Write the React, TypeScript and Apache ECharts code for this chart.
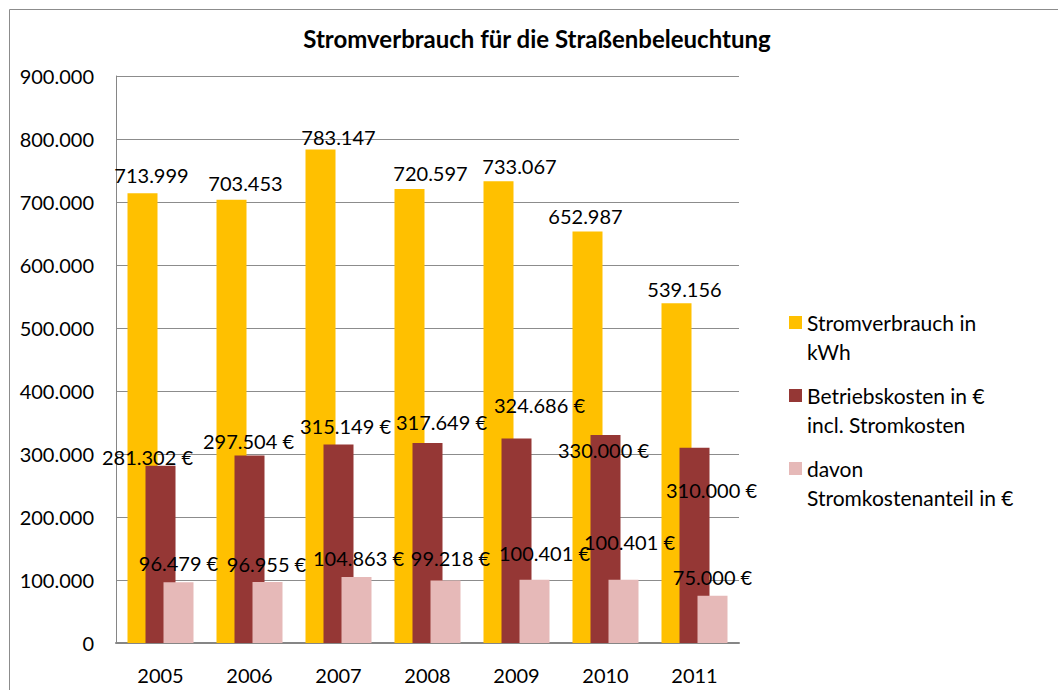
import React, { useEffect, useRef } from "react";
import * as echarts from "echarts";

const titleText = "Stromverbrauch für die Straßenbeleuchtung";
const years = ["2005", "2006", "2007", "2008", "2009", "2010", "2011"];
const seriesNames = [
  "Stromverbrauch in kWh",
  "Betriebskosten in € incl. Stromkosten",
  "davon Stromkostenanteil in €",
];
const legendLines = [
  "Stromverbrauch in\nkWh",
  "Betriebskosten in €\nincl. Stromkosten",
  "davon\nStromkostenanteil in €",
];
const consumptionKWh = [713999, 703453, 783147, 720597, 733067, 652987, 539156];
const operatingCostsEUR = [281302, 297504, 315149, 317649, 324686, 330000, 310000];
const electricityCostsEUR = [96479, 96955, 104863, 99218, 100401, 100401, 75000];
const yMin = 0;
const yMax = 900000;
const yStep = 100000;

// label placement tweaks (style only)
const consumptionLabelOffsets = [[9, -3], [14, -2], [18, 2], [21, -1], [21, 0], [-2, -1], [8, 1]];
const operatingLabelOffsets = [[-13, 6], [-1, 0], [7, -3], [14, -6], [23, -18], [-2, 30], [17, 57]];
const electricityLabelOffsets = [[0, -4], [-1, -3], [2, -4], [5, -7], [10, -12], [6, -23], [0, -4]];

const colors = ["#FFC000", "#953735", "#E6B9B8"];
const FONT = "Lato";

function fmt(v: number): string {
  return String(Math.round(v)).replace(/\B(?=(\d{3})+(?!\d))/g, ".");
}

export default function App() {
  const ref = useRef<HTMLDivElement>(null);
  useEffect(() => {
    document.body.style.margin = "0";
    if (!ref.current) return;
    const chart = echarts.init(ref.current, null, { renderer: "svg" });
    const labelBase = {
      show: true,
      position: "top" as const,
      distance: 5,
      fontSize: 20,
      fontFamily: FONT,
      color: "#000",
    };
    const mk = (vals: number[], offs: number[][]) =>
      vals.map((v, i) => ({ value: v, label: { offset: offs[i] } }));
    chart.setOption({
      animation: false,
      backgroundColor: "#fff",
      title: {
        text: titleText,
        left: 537,
        textAlign: "center",
        top: 26,
        padding: 0,
        textStyle: { fontFamily: FONT, fontSize: 24, fontWeight: "bold", color: "#000" },
      },
      grid: { left: 116, right: 319, top: 76, bottom: 47, containLabel: false },
      legend: {
        orient: "vertical",
        left: 789,
        top: 308,
        padding: 0,
        itemGap: 15,
        itemWidth: 13,
        itemHeight: 42,
        icon: "path://M0,0L13,0L13,13L0,13Z M0,42L13,42",
        data: seriesNames,
        formatter: (name: string) => legendLines[seriesNames.indexOf(name)],
        textStyle: { fontFamily: FONT, fontSize: 21, lineHeight: 29, color: "#000" },
      },
      xAxis: {
        type: "category",
        data: years,
        axisLine: { lineStyle: { color: "#868686", width: 2 } },
        axisTick: { show: false },
        axisLabel: { fontFamily: FONT, fontSize: 20, color: "#000", margin: 22 },
      },
      yAxis: {
        type: "value",
        min: yMin,
        max: yMax,
        interval: yStep,
        axisLine: { show: true, lineStyle: { color: "#868686", width: 1 } },
        axisTick: { show: false },
        splitLine: { lineStyle: { color: "#8c8c8c", width: 1 } },
        axisLabel: {
          fontFamily: FONT,
          fontSize: 20,
          color: "#000",
          margin: 22,
          formatter: (v: number) => fmt(v),
        },
      },
      graphic: [
        {
          type: "polyline",
          shape: { points: [[9.5, 700], [9.5, 9.5], [1070, 9.5]] },
          style: { stroke: "#8c8c8c", fill: "none", lineWidth: 1 },
          silent: true,
        },
      ],
      series: [
        {
          name: seriesNames[0],
          type: "bar",
          barWidth: 30,
          barGap: "-40%",
          itemStyle: { color: colors[0] },
          label: { ...labelBase, formatter: (p: any) => fmt(p.value) },
          data: mk(consumptionKWh, consumptionLabelOffsets),
        },
        {
          name: seriesNames[1],
          type: "bar",
          barWidth: 30,
          barGap: "-40%",
          itemStyle: { color: colors[1] },
          label: { ...labelBase, formatter: (p: any) => fmt(p.value) + " €" },
          data: mk(operatingCostsEUR, operatingLabelOffsets),
        },
        {
          name: seriesNames[2],
          type: "bar",
          barWidth: 30,
          barGap: "-40%",
          itemStyle: { color: colors[2] },
          label: { ...labelBase, formatter: (p: any) => fmt(p.value) + " €" },
          data: mk(electricityCostsEUR, electricityLabelOffsets),
        },
      ],
    });
    return () => chart.dispose();
  }, []);
  return <div ref={ref} style={{ width: 1058, height: 690 }} />;
}
